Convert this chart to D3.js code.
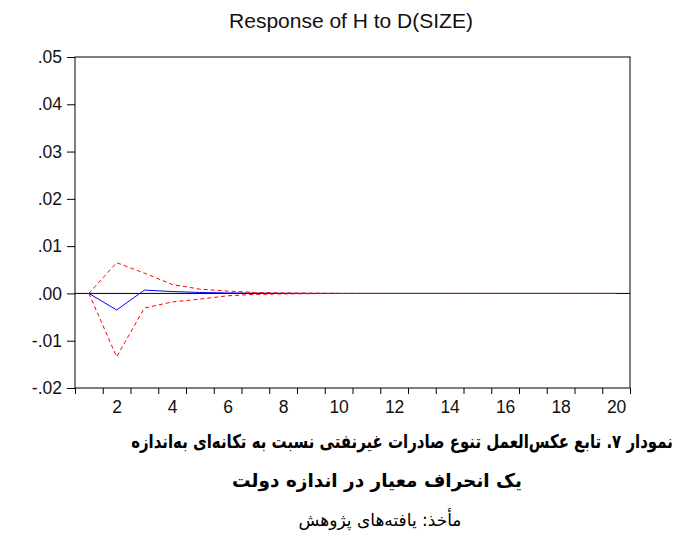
<!DOCTYPE html>
<html><head><meta charset="utf-8">
<script src="https://cdn.jsdelivr.net/npm/d3@7"></script>
<style>body{margin:0;background:#fff}svg{display:block}</style>
</head><body>
<script>
const periods = d3.range(1, 21);
const response = [0, -0.0035, 0.0007, 0.0004, 0.0002, 0.0001, 0.00005, 0.00002, 0, 0, 0, 0, 0, 0, 0, 0, 0, 0, 0, 0];
const upperBand = [0, 0.0065, 0.0043, 0.0019, 0.0009, 0.0005, 0.0002, 0.0001, 0.00005, 0.00002, 0, 0, 0, 0, 0, 0, 0, 0, 0, 0];
const lowerBand = [0, -0.0134, -0.0031, -0.0018, -0.0012, -0.0005, -0.0002, -0.0001, -0.00005, -0.00002, 0, 0, 0, 0, 0, 0, 0, 0, 0, 0];
const yTicks = [-0.02, -0.01, 0, 0.01, 0.02, 0.03, 0.04, 0.05];
const xLabels = [2, 4, 6, 8, 10, 12, 14, 16, 18, 20];
const title = "Response of H to D(SIZE)";
const caption1 = "نمودار ۷. تابع عکس‌العمل تنوع صادرات غیرنفتی نسبت به تکانه‌ای به‌اندازه";
const caption2 = "یک انحراف معیار در اندازه دولت";
const source = "مأخذ: یافته‌های پژوهش";

const W = 680, H = 541;
const m = {l: 75, r: 50, t: 57, b: 153};
const svg = d3.select("body").append("svg").attr("width", W).attr("height", H);
const x = d3.scaleLinear().domain([0.5, 20.5]).range([m.l, W - m.r]);
const y = d3.scaleLinear().domain([-0.02, 0.05]).range([H - m.b, m.t]);
const fmt = v => { let s = d3.format(".2f")(Math.abs(v)).replace(/^0/, ""); return (v < 0 ? "-" : "") + s; };

const font = "Arial, 'Liberation Sans', sans-serif";
svg.append("rect").attr("x", m.l).attr("y", m.t).attr("width", x.range()[1] - m.l).attr("height", y.range()[0] - m.t)
  .attr("fill", "none").attr("stroke", "#000").attr("stroke-width", 1);

const ya = svg.append("g").attr("transform", `translate(${m.l},0)`)
  .call(d3.axisLeft(y).tickValues(yTicks).tickFormat(fmt).tickSize(8).tickPadding(5));
ya.select(".domain").remove();
ya.selectAll("text").attr("font-family", font).attr("font-size", 17.5).attr("fill", "#111");

const xa = svg.append("g").attr("transform", `translate(0,${y.range()[0]})`)
  .call(d3.axisBottom(x).tickValues(d3.range(0.5, 21, 1)).tickFormat("").tickSize(6));
xa.select(".domain").remove();
const xl = svg.append("g").attr("transform", `translate(0,${y.range()[0]})`)
  .call(d3.axisBottom(x).tickValues(xLabels).tickFormat(d3.format("d")).tickSize(0).tickPadding(13));
xl.select(".domain").remove();
xl.selectAll("text").attr("font-family", font).attr("font-size", 17.5).attr("fill", "#111");

svg.append("line").attr("x1", m.l).attr("x2", x.range()[1]).attr("y1", y(0)).attr("y2", y(0)).attr("stroke", "#000").attr("stroke-width", 1);

const line = d3.line().x((d, i) => x(periods[i])).y(d => y(d));
svg.append("path").datum(response).attr("d", line).attr("fill", "none").attr("stroke", "#0000ff").attr("stroke-width", 1);
[upperBand, lowerBand].forEach(b => svg.append("path").datum(b).attr("d", line).attr("fill", "none")
  .attr("stroke", "#ff0000").attr("stroke-width", 1).attr("stroke-dasharray", "4,3"));

svg.append("text").attr("x", 351).attr("y", 28).attr("text-anchor", "middle").attr("font-family", font)
  .attr("font-size", 21).attr("fill", "#111").text(title);

const pf = "'DejaVu Sans', 'Noto Sans', sans-serif";
function fitText(txt, cx, cy, width, bold, size) {
  const g = svg.append("g");
  const t = g.append("text").attr("x", 0).attr("y", 0).attr("text-anchor", "middle").attr("direction", "rtl")
    .attr("font-family", pf).attr("font-weight", bold ? "bold" : "normal").attr("font-size", size).text(txt);
  const w = t.node().getComputedTextLength();
  const sx = Math.min(1, width / w);
  g.attr("transform", `translate(${cx},${cy}) scale(${sx},1)`);
  return t;
}
fitText(caption1, 402, 448, 542, true, 19);
fitText(caption2, 377, 487, 290, true, 19);
fitText(source, 380, 526, 180, false, 17);
</script>
</body></html>
